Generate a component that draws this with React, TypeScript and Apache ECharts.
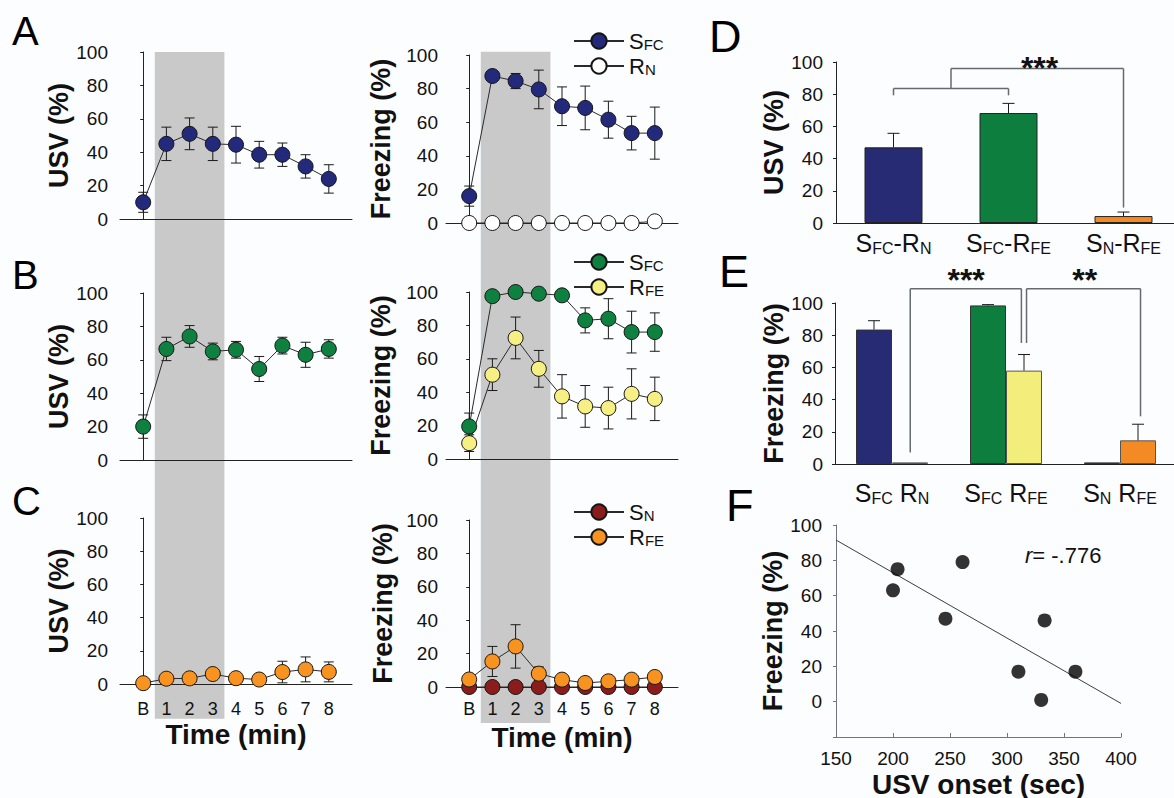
import React, { useEffect, useRef } from "react";
import * as echarts from "echarts";

const FONT = "'Liberation Sans', Arial, Helvetica, sans-serif";
const TXT = "#111111";
const AXIS = "#222222";
const BAND = "#c9c9c9";

const BLUE = "#232a7c";
const GREEN = "#0e8040";
const YELLOW = "#f6ef84";
const ORANGE = "#f7931e";
const MAROON = "#8b1c1c";
const WHITE = "#ffffff";

// ---------- time-course data ----------
const timePoints = [0, 1, 2, 3, 4, 5, 6, 7, 8];
const timeLabels = ["B", "1", "2", "3", "4", "5", "6", "7", "8"];
const shockWindow = [0.5, 3.5];

// Panel A
const aUsvSfc = [10, 45, 51, 45, 44.5, 38.5, 38.5, 31.5, 24];
const aUsvSfcErr = [6, 10, 9.5, 10, 11, 8, 7, 7, 8.5];
const aFrzSfc = [16, 87.5, 84.5, 79.5, 69.5, 68.5, 61.5, 53.5, 53.5];
const aFrzSfcErr = [6, 1.5, 4.5, 11.5, 11.5, 13, 11, 10, 15.5];
const aFrzRn = [0, 0, 0, 0, 0, 0, 0, 0, 1];

// Panel B
const bUsvSfc = [20, 66.5, 74, 65, 66, 54.5, 68.5, 63, 66.5];
const bUsvSfcErr = [7, 7, 6.5, 5, 5, 7.5, 5, 7.5, 5.5];
const bFrzSfc = [19.5, 97.5, 100, 99, 98, 83, 84, 76, 76];
const bFrzSfcErr = [8, 0.5, 0.3, 0.5, 0.5, 7.5, 12, 12.5, 11.5];
const bFrzRfe = [9.5, 50.5, 72.5, 54, 37.5, 31.5, 30.5, 39, 36];
const bFrzRfeErr = [5, 9.5, 12.5, 11, 13, 12.5, 12.5, 15, 13];

// Panel C
const cUsvRfe = [0.5, 3.2, 3.4, 6, 3.5, 2.7, 7.2, 8.8, 7.3];
const cUsvRfeErr = [0.5, 2, 2.5, 2.5, 2, 2, 6.5, 7.5, 6];
const cFrzSn = [0, 0, 0, 0, 0, 0, 0, 0, 0];
const cFrzRfe = [4.5, 15.3, 24.3, 8, 4.4, 2.4, 3.4, 4.4, 6];
const cFrzRfeErr = [2, 9, 13, 4, 2, 1, 1.5, 2, 2];

// Panel D
const dGroups = [["S", "FC", "-R", "N"], ["S", "FC", "-R", "FE"], ["S", "N", "-R", "FE"]];
const dUsv = [47, 68.3, 4.3];
const dUsvErr = [8.7, 6, 2.5];
const dColors = ["#262b74", "#0d7e3e", "#f38a24"];
// bracket segments [x1, y1, x2, y2] in (category, value) units
const dBrackets = [
  [0, 79.3, 0, 83.5], [0, 83.5, 1, 83.5], [1, 83.5, 1, 79.3],
  [0.5, 83.5, 0.5, 95.9], [0.5, 95.9, 2, 95.9], [2, 95.9, 2, 9.6],
];
const dStars = [{ x: 1.27, y: 96.5, text: "***" }];

// Panel E
const eGroups = [["S", "FC", " R", "N"], ["S", "FC", " R", "FE"], ["S", "N", " R", "FE"]];
const eS = [83.5, 98.5, 1];
const eSErr = [5.5, 0.5, 0];
const eSColors = ["#262b74", "#0d7e3e", "#8b2a2a"];
const eR = [1, 58, 14.7];
const eRErr = [0, 10, 10];
const eRColors = ["#ffffff", "#f3ee7c", "#f38a24"];
const eBrackets = [
  [0.16, 7.2, 0.16, 108.9], [0.16, 108.9, 1.135, 108.9], [1.135, 108.9, 1.135, 75.2],
  [1.18, 75.2, 1.18, 108.9], [1.18, 108.9, 2.18, 108.9], [2.18, 108.9, 2.18, 29.6],
];
const eStars = [{ x: 0.65, y: 114.5, text: "***" }, { x: 1.69, y: 114.5, text: "**" }];

// Panel F
const fOnset = [200, 204, 261, 246, 333, 310, 330, 360];
const fFreeze = [63, 75, 79, 47, 46, 17, 1, 17];
const fRegLine = [[150, 91.5], [400, -1]];

// ---------- helpers ----------
const subRich = (m: number, s: number, lh: number, slh: number) => ({
  m: { fontSize: m, lineHeight: lh, fontFamily: FONT, color: TXT },
  s: { fontSize: s, lineHeight: slh, verticalAlign: "bottom", fontFamily: FONT, color: TXT },
});
const partsToRich = (parts: string[]) =>
  parts.map((p, i) => (i % 2 === 0 ? `{m|${p}}` : `{s|${p}}`)).join("");

const timeLabelFor = (v: number) => {
  const i = timePoints.indexOf(v);
  return i >= 0 ? timeLabels[i] : "";
};

function tcX(gi: number, showLabels: boolean, margin: number) {
  return {
    type: "value", gridIndex: gi, min: -1, max: 9, interval: 1,
    axisLine: { show: true, onZero: false, lineStyle: { color: AXIS, width: 1 } },
    axisTick: { show: false }, splitLine: { show: false },
    axisLabel: { show: showLabels, formatter: timeLabelFor, fontSize: 18, color: TXT, fontFamily: FONT, margin },
    name: showLabels ? "Time (min)" : "", nameLocation: "middle", nameGap: 36,
    nameTextStyle: { fontSize: 28, fontWeight: "bold", color: TXT, fontFamily: FONT },
  };
}

function yAx(gi: number, name: string, nameGap: number, margin: number, extra: any = {}) {
  return {
    type: "value", gridIndex: gi, min: 0, max: 100, interval: 20,
    axisLine: { show: true, lineStyle: { color: AXIS, width: 1 } },
    axisTick: { show: true, length: 3, lineStyle: { color: AXIS } },
    splitLine: { show: false },
    axisLabel: { fontSize: 19, color: TXT, fontFamily: FONT, margin },
    name, nameLocation: "middle", nameGap,
    nameTextStyle: { fontSize: 27, fontWeight: "bold", color: TXT, fontFamily: FONT },
    ...extra,
  };
}

function lineS(name: string, gi: number, mean: number[], fill: string, z: number) {
  return {
    type: "line", name, xAxisIndex: gi, yAxisIndex: gi, z, silent: true, clip: false,
    data: mean.map((m, i) => [timePoints[i], m]),
    symbol: "circle", symbolSize: 15, showSymbol: true,
    itemStyle: { color: fill, borderColor: "#151515", borderWidth: 1 },
    lineStyle: { color: "#2a2a2a", width: 1 },
  };
}

function errS(gi: number, mean: number[], err: number[], z: number) {
  return {
    type: "custom", xAxisIndex: gi, yAxisIndex: gi, z, silent: true,
    data: mean.map((m, i) => [timePoints[i], m - err[i], m + err[i]]),
    encode: { x: 0, y: [1, 2] },
    renderItem: (_p: any, api: any) => {
      const x = api.value(0);
      const lo = api.coord([x, api.value(1)]);
      const hi = api.coord([x, api.value(2)]);
      const hw = 5;
      const st = { stroke: "#1a1a1a", lineWidth: 1 };
      return {
        type: "group",
        children: [
          { type: "line", shape: { x1: lo[0], y1: lo[1], x2: hi[0], y2: hi[1] }, style: st },
          { type: "line", shape: { x1: hi[0] - hw, y1: hi[1], x2: hi[0] + hw, y2: hi[1] }, style: st },
          { type: "line", shape: { x1: lo[0] - hw, y1: lo[1], x2: lo[0] + hw, y2: lo[1] }, style: st },
        ],
      };
    },
  };
}

function barErrS(gi: number, mean: number[], err: number[], offset: number, hw: number) {
  return {
    type: "custom", xAxisIndex: gi, yAxisIndex: gi, z: 3, silent: true,
    data: mean.map((m, i) => [i, m, m + err[i]]).filter((d, i) => err[i] > 0),
    encode: { x: 0, y: [1, 2] },
    renderItem: (_p: any, api: any) => {
      const lo = api.coord([api.value(0), api.value(1)]);
      const hi = api.coord([api.value(0), api.value(2)]);
      const x = lo[0] + offset;
      const st = { stroke: "#1a1a1a", lineWidth: 1 };
      return {
        type: "group",
        children: [
          { type: "line", shape: { x1: x, y1: lo[1], x2: x, y2: hi[1] }, style: st },
          { type: "line", shape: { x1: x - hw, y1: hi[1], x2: x + hw, y2: hi[1] }, style: st },
        ],
      };
    },
  };
}

function annoS(gi: number, segs: number[][], stars: { x: number; y: number; text: string }[]) {
  return {
    type: "custom", xAxisIndex: gi, yAxisIndex: gi, z: 5, silent: true, clip: false,
    data: [[0, 0]],
    renderItem: (_p: any, api: any) => {
      const at = (x: number, y: number) => {
        const p0 = api.coord([0, y]);
        const p1 = api.coord([1, y]);
        return [p0[0] + (p1[0] - p0[0]) * x, p0[1]];
      };
      const children: any[] = segs.map((s) => {
        const a = at(s[0], s[1]);
        const b = at(s[2], s[3]);
        return { type: "line", shape: { x1: a[0], y1: a[1], x2: b[0], y2: b[1] }, style: { stroke: "#666a6e", lineWidth: 1.5 } };
      });
      stars.forEach((t) => {
        const p = at(t.x, t.y);
        children.push({
          type: "text", x: p[0], y: p[1],
          style: { text: t.text, fontSize: 32, fontWeight: "bold", fontFamily: FONT, fill: TXT, align: "center", verticalAlign: "middle" },
        });
      });
      return { type: "group", children };
    },
  };
}

const legendRich = subRich(22, 15, 22, 12);
const legendFmt = (name: string) => partsToRich(name.split(": ")[1].split("_"));
function legendC(names: string[], top: number) {
  return {
    show: true, orient: "vertical", left: 573, top, padding: 0,
    itemWidth: 50, itemHeight: 19, itemGap: 3, selectedMode: false,
    data: names, formatter: legendFmt, textStyle: { rich: legendRich },
  };
}

function buildOption() {
  const G = (left: number, top: number, width: number, height: number) => ({ left, top, width, height, outerBoundsMode: "none", containLabel: false });
  return {
    animation: false,
    backgroundColor: "#fcfdfe",
    grid: [
      G(120, 52, 232, 167),
      G(446, 55, 232, 168),
      G(120, 293, 232, 167),
      G(446, 292, 232, 167),
      G(120, 518, 232, 166),
      G(446, 520, 232, 167),
      G(836, 62, 345, 161),
      G(835, 303, 342, 161),
      G(836, 525, 285, 212),
    ],
    legend: [
      legendC(["A: S_FC", "A: R_N"], 30),
      legendC(["B: S_FC", "B: R_FE"], 251),
      legendC(["C: S_N", "C: R_FE"], 501),
    ],
    xAxis: [
      tcX(0, false, 16), tcX(1, false, 16), tcX(2, false, 16), tcX(3, false, 16),
      tcX(4, true, 16), tcX(5, true, 13),
      {
        type: "category", gridIndex: 6, boundaryGap: true, data: dGroups.map((g) => g.join("")),
        axisLine: { show: true, onZero: false, lineStyle: { color: AXIS } }, axisTick: { show: false },
        axisLabel: { interval: 0, margin: 7, formatter: (_v: string, i: number) => partsToRich(dGroups[i]), rich: subRich(25, 16, 26, 12) },
      },
      {
        type: "category", gridIndex: 7, boundaryGap: true, data: eGroups.map((g) => g.join("")),
        axisLine: { show: true, onZero: false, lineStyle: { color: AXIS } }, axisTick: { show: false },
        axisLabel: { interval: 0, margin: 16, formatter: (_v: string, i: number) => partsToRich(eGroups[i]), rich: subRich(25, 16, 26, 12) },
      },
      {
        type: "value", gridIndex: 8, min: 150, max: 400, interval: 50,
        axisLine: { show: true, onZero: false, lineStyle: { color: "#6e7683" } },
        axisTick: { show: true, inside: true, length: 4, lineStyle: { color: "#6e7683" } },
        splitLine: { show: false },
        axisLabel: { fontSize: 19, color: TXT, fontFamily: FONT, margin: 12 },
        name: "USV onset (sec)", nameLocation: "middle", nameGap: 33,
        nameTextStyle: { fontSize: 28, fontWeight: "bold", color: TXT, fontFamily: FONT },
      },
    ],
    yAxis: [
      yAx(0, "USV (%)", 46, 12),
      yAx(1, "Freezing (%)", 52, 8),
      yAx(2, "USV (%)", 46, 12),
      yAx(3, "Freezing (%)", 52, 8),
      yAx(4, "USV (%)", 46, 12),
      yAx(5, "Freezing (%)", 50, 8),
      yAx(6, "USV (%)", 48, 13),
      yAx(7, "Freezing (%)", 47, 12),
      yAx(8, "Freezing (%)", 48, 14, {
        min: -20, max: 100, interval: 20,
        axisLine: { show: true, lineStyle: { color: "#6e7683" } },
        axisTick: { show: true, length: 3, lineStyle: { color: "#6e7683" } },
        axisLabel: { fontSize: 19, color: TXT, fontFamily: FONT, margin: 14, formatter: (v: number) => (v < 0 ? "" : String(v)) },
      }),
    ],
    series: [
      // A
      errS(0, aUsvSfc, aUsvSfcErr, 1),
      lineS("A-usv", 0, aUsvSfc, BLUE, 3),
      errS(1, aFrzSfc, aFrzSfcErr, 1),
      lineS("A: R_N", 1, aFrzRn, WHITE, 3),
      lineS("A: S_FC", 1, aFrzSfc, BLUE, 4),
      // B
      errS(2, bUsvSfc, bUsvSfcErr, 1),
      lineS("B-usv", 2, bUsvSfc, GREEN, 3),
      errS(3, bFrzRfe, bFrzRfeErr, 1),
      errS(3, bFrzSfc, bFrzSfcErr, 1),
      lineS("B: R_FE", 3, bFrzRfe, YELLOW, 3),
      lineS("B: S_FC", 3, bFrzSfc, GREEN, 4),
      // C
      errS(4, cUsvRfe, cUsvRfeErr, 1),
      lineS("C-usv", 4, cUsvRfe, ORANGE, 3),
      errS(5, cFrzRfe, cFrzRfeErr, 1),
      lineS("C: S_N", 5, cFrzSn, MAROON, 3),
      lineS("C: R_FE", 5, cFrzRfe, ORANGE, 4),
      // D
      {
        type: "bar", xAxisIndex: 6, yAxisIndex: 6, barWidth: 58, silent: true, z: 2,
        data: dUsv.map((v, i) => ({ value: v, itemStyle: { color: dColors[i] } })),
        itemStyle: { borderColor: "#222", borderWidth: 1 },
      },
      barErrS(6, dUsv, dUsvErr, 0, 6),
      annoS(6, dBrackets, dStars),
      // E
      {
        type: "bar", xAxisIndex: 7, yAxisIndex: 7, barWidth: 36, barGap: "0%", silent: true, z: 2,
        data: eS.map((v, i) => ({ value: v, itemStyle: { color: eSColors[i] } })),
        itemStyle: { borderColor: "#333", borderWidth: 1 },
      },
      {
        type: "bar", xAxisIndex: 7, yAxisIndex: 7, barWidth: 36, barGap: "0%", silent: true, z: 2,
        data: eR.map((v, i) => ({ value: v, itemStyle: { color: eRColors[i] } })),
        itemStyle: { borderColor: "#555", borderWidth: 1 },
      },
      barErrS(7, eS, eSErr, -18, 6),
      barErrS(7, eR, eRErr, 18, 6),
      annoS(7, eBrackets, eStars),
      // F
      {
        type: "line", xAxisIndex: 8, yAxisIndex: 8, data: fRegLine, showSymbol: false, symbol: "none",
        lineStyle: { color: "#3a3d44", width: 1 }, silent: true, z: 2,
      },
      {
        type: "scatter", xAxisIndex: 8, yAxisIndex: 8, symbolSize: 14, silent: true, z: 3,
        data: fOnset.map((x, i) => [x, fFreeze[i]]),
        itemStyle: { color: "#000000" },
      },
    ],
  };
}

const bandSpecs = [
  { xAxis: 0, topAxis: 0, topVal: 100, bottomAxis: 4, bottomVal: -21 },
  { xAxis: 1, topAxis: 1, topVal: 102, bottomAxis: 5, bottomVal: -21.5 },
];

const letters = [
  { t: "A", x: 12, y: 31, s: 40 },
  { t: "B", x: 12, y: 275, s: 40 },
  { t: "C", x: 12, y: 501, s: 40 },
  { t: "D", x: 709, y: 36, s: 45 },
  { t: "E", x: 719, y: 271, s: 45 },
  { t: "F", x: 726, y: 505, s: 45 },
];

export default function App() {
  const ref = useRef<HTMLDivElement>(null);
  useEffect(() => {
    const el = ref.current;
    if (!el) return;
    const chart = echarts.init(el, null, { renderer: "svg" });
    chart.setOption(buildOption() as any);
    const elements: any[] = [];
    bandSpecs.forEach((b) => {
      const x0 = chart.convertToPixel({ xAxisIndex: b.xAxis } as any, shockWindow[0]) as any as number;
      const x1 = chart.convertToPixel({ xAxisIndex: b.xAxis } as any, shockWindow[1]) as any as number;
      const y0 = chart.convertToPixel({ yAxisIndex: b.topAxis } as any, b.topVal) as any as number;
      const y1 = chart.convertToPixel({ yAxisIndex: b.bottomAxis } as any, b.bottomVal) as any as number;
      elements.push({
        type: "rect", z: -10, silent: true,
        shape: { x: x0, y: y0, width: x1 - x0, height: y1 - y0 },
        style: { fill: BAND },
      });
    });
    letters.forEach((l) => {
      elements.push({
        type: "text", x: l.x, y: l.y, silent: true,
        style: { text: l.t, fontSize: l.s, fontFamily: FONT, fill: "#000", align: "left", verticalAlign: "middle" },
      });
    });
    elements.push({
      type: "text", x: 1025, y: 555, silent: true,
      style: {
        text: "{i|r}{n|= -.776}",
        rich: {
          i: { fontSize: 22, fontStyle: "italic", fontFamily: FONT, fill: TXT },
          n: { fontSize: 22, fontFamily: FONT, fill: TXT },
        },
        align: "left", verticalAlign: "middle",
      },
    });
    chart.setOption({ graphic: { elements } } as any);
    return () => chart.dispose();
  }, []);
  return <div ref={ref} style={{ position: "absolute", left: 0, top: 0, width: 1174, height: 798 }} />;
}
